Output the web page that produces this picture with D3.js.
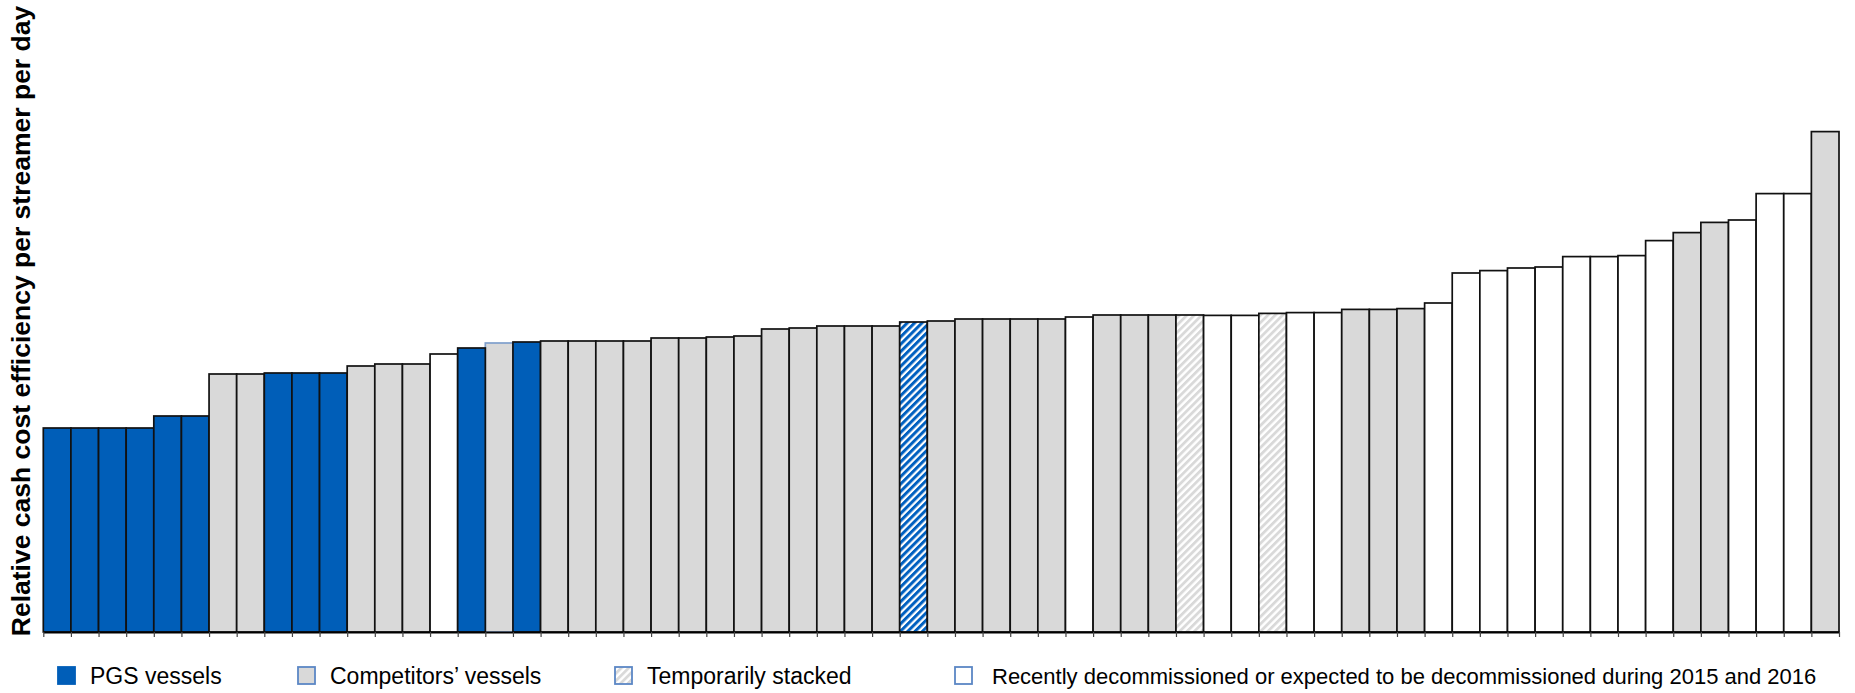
<!DOCTYPE html>
<html lang="en">
<head>
<meta charset="UTF-8" />
<title>Relative cash cost efficiency</title>
<script src="https://d3js.org/d3.v7.min.js"></script>
<style>
  body { margin: 0; background: #fff; font-family: 'Liberation Sans', Arial, sans-serif; }
  svg { display: block; }
  text { fill: #000; }
  text.ylabel { font-size: 26.5px; font-weight: 700; }
  text.legend { font-size: 23px; }
</style>
</head>
<body>
<svg width="1855" height="693"></svg>
<script>
  // vessels ranked by relative cash cost efficiency (left = best)
  const vessels = [1,2,3,4,5,6,7,8,9,10,11,12,13,14,15,16,17,18,19,20,21,22,23,24,25,26,27,28,29,30,
    31,32,33,34,35,36,37,38,39,40,41,42,43,44,45,46,47,48,49,50,51,52,53,54,55,56,57,58,59,60,
    61,62,63,64,65];

  // relative values (no scale printed)
  const values = [102,102,102,102,108,108,129,129,129.5,129.5,129.5,133,134,134,139,142,144.5,145,
    145.5,145.5,145.5,145.5,147,147,147.5,148,151.5,152,153,153,153,155,155.5,156.5,156.5,156.5,
    156.5,157.5,158.5,158.5,158.5,158.5,158.3,158.3,159.3,159.7,159.7,161.3,161.3,161.7,164.5,
    179.5,180.7,182,182.5,187.7,187.7,188.2,195.7,199.7,204.8,206,219.2,219.2,250.2];

  // pgs = PGS, comp = competitor, compb = competitor (blue edge), stack = stacked,
  // stackpgs = stacked PGS, decom = decommissioned
  const types = ['pgs','pgs','pgs','pgs','pgs','pgs','comp','comp','pgs','pgs','pgs','comp','comp','comp',
    'decom','pgs','compb','pgs','comp','comp','comp','comp','comp','comp','comp','comp','comp','comp',
    'comp','comp','comp','stackpgs','comp','comp','comp','comp','comp','decom','comp','comp','comp',
    'stack','decom','decom','stack','decom','decom','comp','comp','comp','decom','decom','decom','decom',
    'decom','decom','decom','decom','decom','comp','comp','decom','decom','decom','comp'];

  const legendLabels = ['PGS vessels', 'Competitors\u2019 vessels', 'Temporarily stacked',
    'Recently decommissioned or expected to be decommissioned during 2015 and 2016'];

  const data = vessels.map((v, i) => ({ vessel: v, value: values[i], type: types[i] }));

  const svg = d3.select('svg');
  const defs = svg.append('defs');

  // diagonal hatches
  function hatch(id, color, w) {
    const p = defs.append('pattern')
      .attr('id', id)
      .attr('patternUnits', 'userSpaceOnUse')
      .attr('width', 5.2)
      .attr('height', 5.2)
      .attr('patternTransform', 'rotate(45)');
    p.append('rect').attr('width', 5.2).attr('height', 5.2).attr('fill', '#fff');
    p.append('rect').attr('width', w).attr('height', 5.2).attr('fill', color);
  }
  hatch('hatchBlue', '#0060C0', 3);
  hatch('hatchGray', '#D9D9D9', 2.8);

  const fills = {
    pgs: '#005EB8', comp: '#D9D9D9', compb: '#D9D9D9',
    stack: 'url(#hatchGray)', stackpgs: 'url(#hatchBlue)', decom: '#FFFFFF'
  };

  const left = 43.3, right = 1839, base = 632;

  const xScale = d3.scaleBand()
    .domain(vessels)
    .range([left, right])
    .padding(0);

  const yScale = d3.scaleLinear()
    .domain([0, 260])
    .range([base, base - 520]);

  const bars = svg.append('g')
    .selectAll('rect')
    .data(data)
    .enter()
    .append('rect')
    .attr('x', (d) => xScale(d.vessel))
    .attr('y', (d) => yScale(d.value))
    .attr('width', xScale.bandwidth())
    .attr('height', (d) => base - yScale(d.value))
    .attr('fill', (d) => fills[d.type])
    .attr('stroke', (d) => d.type === 'compb' ? '#7f9fcc' : '#111')
    .attr('stroke-width', 1.7);

  // keep black outlines on top of the blue-edged one
  bars.filter((d) => d.type !== 'compb').raise();

  // baseline with a tick at every bar boundary
  const edgeScale = d3.scaleLinear().domain([0, vessels.length]).range([left, right]);
  const axis = svg.append('g')
    .attr('transform', `translate(0, ${base})`)
    .call(d3.axisBottom(edgeScale)
      .tickValues(d3.range(0, vessels.length + 1))
      .tickSize(5)
      .tickSizeOuter(0)
      .tickFormat(''));
  axis.select('.domain').attr('stroke', '#000').attr('stroke-width', 2.2);
  axis.selectAll('.tick line').attr('stroke', '#444').attr('stroke-width', 1.2);

  svg.append('text') // Y axis label
    .attr('class', 'ylabel')
    .attr('transform', 'translate(30, 321) rotate(-90)')
    .attr('text-anchor', 'middle')
    .text('Relative cash cost efficiency per streamer per day');

  // legend
  const legendX = [57, 297, 614, 954];
  const legendFill = ['#005EB8', '#D9D9D9', 'url(#hatchGray)', '#FFFFFF'];
  const legendStroke = ['#005EB8', '#5B87C5', '#5B87C5', '#5B87C5'];
  const legend = svg.append('g')
    .selectAll('g')
    .data(legendLabels)
    .enter()
    .append('g')
    .attr('transform', (d, i) => `translate(${legendX[i]}, 666)`);

  legend.append('rect')
    .attr('x', 1)
    .attr('y', 1)
    .attr('width', 17)
    .attr('height', 17)
    .attr('fill', (d, i) => legendFill[i])
    .attr('stroke', (d, i) => legendStroke[i])
    .attr('stroke-width', 1.8);

  legend.append('text')
    .attr('class', 'legend')
    .attr('x', (d, i) => i === 3 ? 38 : 33)
    .attr('y', 18)
    .style('font-size', (d, i) => i === 3 ? '22px' : null)
    .text((d) => d);
</script>
</body>
</html>
